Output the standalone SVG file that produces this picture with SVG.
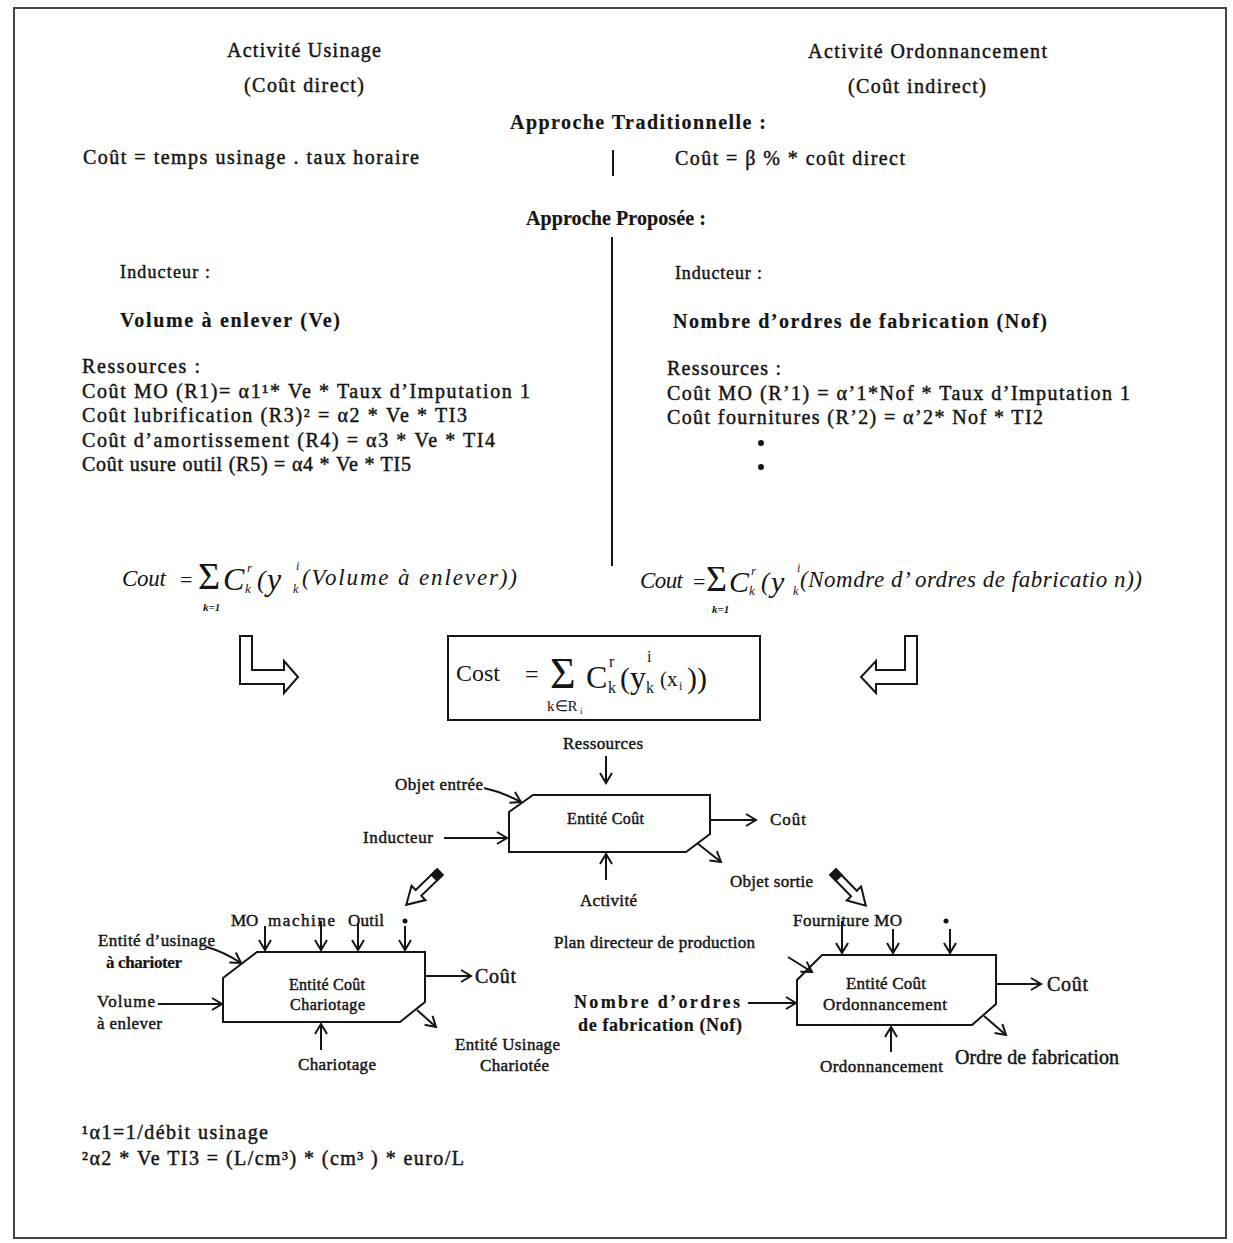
<svg xmlns="http://www.w3.org/2000/svg" width="1233" height="1243" viewBox="0 0 1233 1243">
<style>
.t{font-family:"Liberation Serif","Times New Roman",serif;fill:#151515;stroke:#151515;stroke-width:0.45}
.f20{font-size:20px}
.f18{font-size:18px}
.f17{font-size:17px}
.f16{font-size:16px}
.b{font-weight:bold;stroke-width:0.2}
.i{font-style:italic;stroke-width:0}
.n{stroke-width:0}
.c{stroke:#151515;stroke-width:2;fill:none}
.a{marker-end:url(#ah)}
.node{fill:#fff;stroke:#151515;stroke-width:2}
.hollow{fill:#fff;stroke:#151515;stroke-width:2;stroke-linejoin:miter}
</style>
<defs>
<marker id="ah" markerUnits="userSpaceOnUse" markerWidth="14" markerHeight="14" viewBox="0 0 14 14" refX="12" refY="7" orient="auto">
<path d="M2,1 L12,7 L2,13" fill="none" stroke="#151515" stroke-width="2"/>
</marker>
<g id="diag-arrow">
<path d="M0,-4 L30,-4 L30,-10 L47,0 L30,10 L30,4 L0,4 Z" class="hollow"/>
<rect x="0" y="-5" width="9" height="10" fill="#151515"/>
</g>
</defs>
<rect x="0" y="0" width="1233" height="1243" fill="#fff"/>
<rect x="14" y="8" width="1212" height="1230" fill="none" stroke="#444" stroke-width="2"/>

<g id="header">
<text class="t f20" x="227" y="57" textLength="154">Activité Usinage</text>
<text class="t f20" x="244" y="92" textLength="120">(Coût direct)</text>
<text class="t f20" x="808" y="58" textLength="239">Activité Ordonnancement</text>
<text class="t f20" x="848" y="93" textLength="138">(Coût indirect)</text>
<text class="t f20 b" x="510" y="129" textLength="256">Approche Traditionnelle :</text>
<text class="t f20" x="83" y="164" textLength="336">Coût = temps usinage . taux horaire</text>
<text class="t f20" x="675" y="165" textLength="230">Coût = β % * coût direct</text>
<text class="t f20 b" x="526" y="225" textLength="180">Approche Proposée :</text>
<line x1="613" y1="150" x2="613" y2="176" class="c"/>
<line x1="612" y1="237" x2="612" y2="566" class="c"/>
</g>

<g id="left-column">
<text class="t f18" x="120" y="278" textLength="90">Inducteur :</text>
<text class="t f20 b" x="120" y="327" textLength="220">Volume à enlever (Ve)</text>
<text class="t f20" x="82" y="373" textLength="118">Ressources :</text>
<text class="t f20" x="82" y="398" textLength="448">Coût MO (R1)= α1¹* Ve * Taux d’Imputation 1</text>
<text class="t f20" x="82" y="422" textLength="385">Coût lubrification (R3)² = α2 * Ve * TI3</text>
<text class="t f20" x="82" y="447" textLength="413">Coût d’amortissement (R4) = α3 * Ve * TI4</text>
<text class="t f20" x="82" y="471" textLength="329">Coût usure outil (R5) = α4 * Ve * TI5</text>
</g>

<g id="right-column">
<text class="t f18" x="675" y="279" textLength="87">Inducteur :</text>
<text class="t f20 b" x="673" y="328" textLength="374">Nombre d’ordres de fabrication (Nof)</text>
<text class="t f20" x="667" y="375" textLength="114">Ressources :</text>
<text class="t f20" x="667" y="400" textLength="463">Coût MO (R’1) = α’1*Nof * Taux d’Imputation 1</text>
<text class="t f20" x="667" y="424" textLength="376">Coût fournitures (R’2) = α’2* Nof * TI2</text>
<circle cx="761" cy="443" r="3" fill="#151515"/>
<circle cx="761" cy="467" r="3" fill="#151515"/>
</g>

<g id="formula-left">
<text class="t i" font-size="23" x="122" y="586" textLength="44">Cout</text>
<text class="t n" font-size="22" x="180" y="587">=</text>
<text class="t n" font-size="38" x="198" y="589">Σ</text>
<text class="t i b" font-size="11" x="203" y="611">k=1</text>
<text class="t i" font-size="32" x="223" y="590">C</text>
<text class="t i" font-size="13" x="247" y="572">r</text>
<text class="t i" font-size="13" x="245" y="593">k</text>
<text class="t i" font-size="26" x="257" y="588">(</text>
<text class="t i" font-size="32" x="267" y="590">y</text>
<text class="t i" font-size="12" x="296" y="570">i</text>
<text class="t i" font-size="12" x="293" y="593">k</text>
<text class="t i" font-size="23" x="302" y="585" textLength="215">(Volume  à enlever))</text>
</g>

<g id="formula-right">
<text class="t i" font-size="23" x="640" y="588" textLength="43">Cout</text>
<text class="t n" font-size="22" x="693" y="589">=</text>
<text class="t n" font-size="36" x="706" y="591">Σ</text>
<text class="t i b" font-size="11" x="712" y="613">k=1</text>
<text class="t i" font-size="30" x="729" y="592">C</text>
<text class="t i" font-size="13" x="751" y="575">r</text>
<text class="t i" font-size="13" x="749" y="595">k</text>
<text class="t i" font-size="25" x="761" y="590">(</text>
<text class="t i" font-size="30" x="771" y="592">y</text>
<text class="t i" font-size="12" x="797" y="572">i</text>
<text class="t i" font-size="12" x="793" y="595">k</text>
<text class="t i" font-size="23" x="800" y="587" textLength="342">(Nomdre d’ ordres de fabricatio n))</text>
</g>

<g id="arrow-left-L">
<path d="M240,636 L252,636 L252,670 L284,670 L284,661 L298,677 L284,693 L284,684 L240,684 Z" class="hollow"/>
</g>
<g id="arrow-right-L">
<path d="M917,636 L905,636 L905,670 L876,670 L876,661 L861,677 L876,693 L876,684 L917,684 Z" class="hollow"/>
</g>

<g id="cost-box">
<rect x="448" y="636" width="312" height="84" fill="#fff" stroke="#151515" stroke-width="2"/>
<text class="t n" font-size="24" x="456" y="681">Cost</text>
<text class="t n" font-size="24" x="525" y="682">=</text>
<text class="t n" font-size="44" x="550" y="688">Σ</text>
<text class="t n" font-size="15" x="547" y="711">k∈R</text>
<text class="t n" font-size="9" x="580" y="714">i</text>
<text class="t n" font-size="32" x="586" y="688">C</text>
<text class="t n" font-size="16" x="609" y="667">r</text>
<text class="t n" font-size="16" x="608" y="693">k</text>
<text class="t n" font-size="30" x="620" y="688">(</text>
<text class="t n" font-size="32" x="630" y="688">y</text>
<text class="t n" font-size="16" x="647" y="662">i</text>
<text class="t n" font-size="16" x="646" y="693">k</text>
<text class="t n" font-size="21" x="660" y="686">(x</text>
<text class="t n" font-size="12" x="679" y="690">i</text>
<text class="t n" font-size="30" x="687" y="688">))</text>
</g>

<g id="entite-cout">
<path d="M533,795 L710,795 L710,834 L686,852 L509,852 L509,812 Z" class="node"/>
<text class="t f16" x="567" y="824" textLength="77">Entité Coût</text>
</g>
<g id="entite-cout-labels">
<text class="t f17" x="563" y="749" textLength="80">Ressources</text>
<text class="t f17" x="395" y="790" textLength="88">Objet entrée</text>
<text class="t f17" x="363" y="843" textLength="70">Inducteur</text>
<text class="t f17" x="770" y="825" textLength="36">Coût</text>
<text class="t f17" x="730" y="887" textLength="83">Objet sortie</text>
<text class="t f17" x="580" y="906" textLength="57">Activité</text>
</g>

<g id="transfer-arrows">
<use href="#diag-arrow" transform="translate(440,872) rotate(135.8)"/>
<use href="#diag-arrow" transform="translate(833,872) rotate(45.8)"/>
</g>

<g id="entite-chariotage">
<path d="M257,952 L425,952 L425,1002 L400,1022 L223,1022 L223,978 Z" class="node"/>
<text class="t f16" x="289" y="990" textLength="76">Entité Coût</text>
<text class="t f16" x="290" y="1010" textLength="75">Chariotage</text>
</g>
<g id="chariotage-labels">
<text class="t f17" x="231" y="926">MO</text>
<text class="t f17" x="268" y="926" textLength="67">machine</text>
<text class="t f17" x="348" y="926" textLength="36">Outil</text>
<circle cx="405" cy="921" r="2.5" fill="#151515"/>
<text class="t f17" x="98" y="946" textLength="117">Entité d’usinage</text>
<text class="t f17 b" x="106" y="968" textLength="76">à charioter</text>
<text class="t f17" x="97" y="1007" textLength="58">Volume</text>
<text class="t f17" x="97" y="1029" textLength="65">à enlever</text>
<text class="t f20" x="475" y="983" textLength="41">Coût</text>
<text class="t f17" x="298" y="1070" textLength="78">Chariotage</text>
<text class="t f17" x="455" y="1050" textLength="105">Entité Usinage</text>
<text class="t f17" x="480" y="1071" textLength="69">Chariotée</text>
</g>

<g id="entite-ordonnancement">
<path d="M822,955 L996,955 L996,1004 L972,1025 L797,1025 L797,980 Z" class="node"/>
<text class="t f17" x="846" y="989" textLength="80">Entité Coût</text>
<text class="t f17" x="823" y="1010" textLength="124">Ordonnancement</text>
</g>
<g id="ordonnancement-labels">
<text class="t f17" x="793" y="926" textLength="109">Fourniture MO</text>
<circle cx="946" cy="921" r="2.5" fill="#151515"/>
<text class="t f17" x="554" y="948" textLength="201">Plan directeur de production</text>
<text class="t f18 b" x="574" y="1008" textLength="166">Nombre d’ordres</text>
<text class="t f18 b" x="578" y="1031" textLength="164">de fabrication (Nof)</text>
<text class="t f20" x="1047" y="991" textLength="41">Coût</text>
<text class="t f17" x="820" y="1072" textLength="123">Ordonnancement</text>
<text class="t f20" x="955" y="1064" textLength="164">Ordre de fabrication</text>
</g>

<g id="footnotes">
<text class="t f20" x="82" y="1139" textLength="186">¹α1=1/débit usinage</text>
<text class="t f20" x="82" y="1165" textLength="382">²α2 * Ve TI3 = (L/cm³) * (cm³ ) * euro/L</text>
</g>

<g id="connectors">
<line class="c a" x1="606" y1="756" x2="606" y2="783"/>
<path class="c a" d="M484,788 Q502,792 521,802"/>
<line class="c a" x1="444" y1="838" x2="507" y2="838"/>
<line class="c a" x1="710" y1="820" x2="756" y2="820"/>
<line class="c a" x1="697" y1="843" x2="721" y2="862"/>
<line class="c a" x1="606" y1="880" x2="606" y2="854"/>

<line class="c a" x1="265" y1="926" x2="265" y2="950"/>
<line class="c a" x1="321" y1="921" x2="321" y2="950"/>
<line class="c a" x1="358" y1="923" x2="358" y2="950"/>
<line class="c a" x1="405" y1="926" x2="405" y2="950"/>
<path class="c a" d="M207,947 Q224,952 241,963"/>
<line class="c a" x1="158" y1="1004" x2="222" y2="1004"/>
<line class="c a" x1="425" y1="976" x2="471" y2="976"/>
<line class="c a" x1="417" y1="1010" x2="436" y2="1027"/>
<line class="c a" x1="321" y1="1050" x2="321" y2="1024"/>

<line class="c a" x1="842" y1="921" x2="842" y2="953"/>
<line class="c a" x1="893" y1="929" x2="893" y2="953"/>
<line class="c a" x1="950" y1="929" x2="950" y2="953"/>
<line class="c a" x1="788" y1="957" x2="812" y2="972"/>
<line class="c a" x1="748" y1="1003" x2="796" y2="1003"/>
<line class="c a" x1="996" y1="984" x2="1041" y2="984"/>
<line class="c a" x1="984" y1="1016" x2="1006" y2="1035"/>
<line class="c a" x1="891" y1="1052" x2="891" y2="1027"/>
</g>
</svg>
